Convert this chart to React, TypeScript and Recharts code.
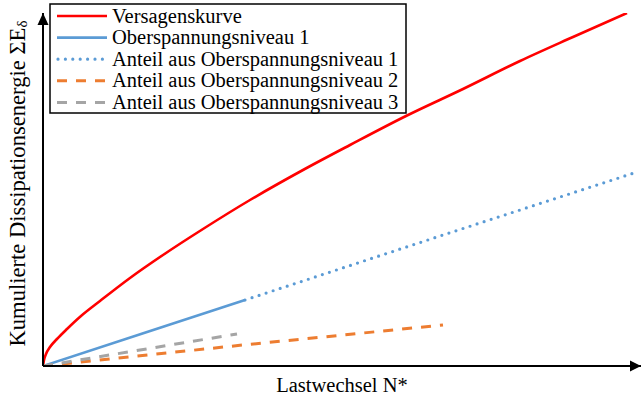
import React from 'react';
import { LineChart, Line, XAxis, YAxis, ReferenceDot } from 'recharts';

// Lastwechsel N* (x) and cumulative dissipation energy (y), arbitrary units
const versagenskurveN = [0, 1, 3, 7, 14, 24, 38, 57, 87, 120, 160, 207, 260, 307, 363, 420, 477, 530, 584];
const versagenskurveE = [0, 6, 12, 19, 27, 37, 50, 65, 88, 111, 137, 166, 196, 221, 250, 277, 305, 329, 353];
const niveau1N = [0, 101, 202];
const niveau1E = [0, 33, 66];
const anteil1N = [202, 400, 594];
const anteil1E = [66, 131, 194];
const anteil2N = [0, 200, 400];
const anteil2E = [0, 21, 41];
const anteil3N = [0, 97, 194];
const anteil3E = [0, 16, 32];

const xMax = 598;
const yMax = 353;

const toPts = (xs: number[], ys: number[]) => xs.map((x, i) => ({ x, y: ys[i] }));

const FONT = '"Liberation Serif", "Times New Roman", serif';

const series = [
  { name: 'Versagenskurve', data: toPts(versagenskurveN, versagenskurveE), color: '#FF0000', dash: undefined as string | undefined, type: 'monotone', width: 2.6, cap: 'butt' },
  { name: 'Oberspannungsniveau 1', data: toPts(niveau1N, niveau1E), color: '#5B9BD5', dash: undefined, type: 'linear', width: 2.6, cap: 'butt' },
  { name: 'Anteil aus Oberspannungsniveau 1', data: toPts(anteil1N, anteil1E), color: '#5B9BD5', dash: '0 7.4', type: 'linear', width: 3.2, cap: 'round' },
  { name: 'Anteil aus Oberspannungsniveau 2', data: toPts(anteil2N, anteil2E), color: '#ED7D31', dash: '10 9', type: 'linear', width: 3, cap: 'butt' },
  { name: 'Anteil aus Oberspannungsniveau 3', data: toPts(anteil3N, anteil3E), color: '#A5A5A5', dash: '10 9', type: 'linear', width: 3, cap: 'butt' },
];

const ArrowRight = (props: any) => {
  const { cx, cy } = props;
  return <polygon points={`${cx},${cy} ${cx - 11},${cy - 5.5} ${cx - 11},${cy + 5.5}`} fill="#000" />;
};
const ArrowUp = (props: any) => {
  const { cx, cy } = props;
  return <polygon points={`${cx},${cy} ${cx - 5.5},${cy + 12} ${cx + 5.5},${cy + 12}`} fill="#000" />;
};

const YLabel = (props: any) => {
  const vb = props.viewBox || { x: 0, y: 0, width: 43, height: 353 };
  const cx = vb.x + 17;
  const cy = vb.y + vb.height / 2 - 6;
  return (
    <text
      x={cx}
      y={cy}
      transform={`rotate(-90, ${cx}, ${cy})`}
      textAnchor="middle"
      dominantBaseline="central"
      fontFamily={FONT}
      fontSize={22.6}
      fill="#000"
    >
      Kumulierte Dissipationsenergie ΣE
      <tspan fontSize={15} dy={5}>δ</tspan>
    </text>
  );
};

const XLabel = (props: any) => {
  const vb = props.viewBox || { x: 43, y: 366, width: 598, height: 31 };
  return (
    <text
      x={vb.x + vb.width / 2}
      y={vb.y + 26}
      textAnchor="middle"
      fontFamily={FONT}
      fontSize={20.5}
      fill="#000"
    >
      Lastwechsel N*
    </text>
  );
};

const LegendBox = () => (
  <svg width={360} height={114} style={{ position: 'absolute', left: 48, top: 2 }}>
    <rect x={2} y={2} width={356} height={109} fill="#fff" stroke="#000" strokeWidth={1.5} />
    {series.map((s, i) => {
      const cy = 14 + i * 21.6;
      return (
        <g key={s.name}>
          <line
            x1={s.cap === 'round' ? 10 : 9}
            x2={59}
            y1={cy}
            y2={cy}
            stroke={s.color}
            strokeWidth={s.width}
            strokeDasharray={s.dash}
            strokeLinecap={s.cap as any}
          />
          <text x={64} y={cy + 6.5} fontFamily={FONT} fontSize={20.5} fill="#000">
            {s.name}
          </text>
        </g>
      );
    })}
  </svg>
);

export default function App() {
  return (
    <div style={{ position: 'absolute', left: 0, top: 0, width: 642, height: 397, background: '#fff' }}>
      <LineChart width={642} height={397} margin={{ top: 13, right: 1, bottom: 0, left: 0 }}>
        <XAxis
          type="number"
          dataKey="x"
          domain={[0, xMax]}
          allowDataOverflow
          tick={false}
          tickLine={false}
          height={31}
          axisLine={{ stroke: '#000', strokeWidth: 2 }}
          label={<XLabel />}
        />
        <YAxis
          type="number"
          dataKey="y"
          domain={[0, yMax]}
          allowDataOverflow
          tick={false}
          tickLine={false}
          width={43}
          axisLine={{ stroke: '#000', strokeWidth: 2 }}
          label={<YLabel />}
        />
        {series.map((s) => (
          <Line
            key={s.name}
            data={s.data}
            dataKey="y"
            name={s.name}
            type={s.type as any}
            stroke={s.color}
            strokeWidth={s.width}
            strokeDasharray={s.dash}
            strokeLinecap={s.cap as any}
            dot={false}
            activeDot={false}
            isAnimationActive={false}
          />
        ))}
        <ReferenceDot x={xMax} y={0} r={0} shape={<ArrowRight />} ifOverflow="visible" />
        <ReferenceDot x={0} y={yMax} r={0} shape={<ArrowUp />} ifOverflow="visible" />
      </LineChart>
      <LegendBox />
    </div>
  );
}
